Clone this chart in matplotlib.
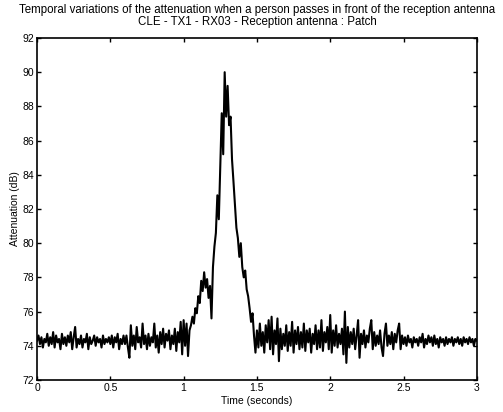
import numpy as np
import matplotlib
matplotlib.use("Agg")
import matplotlib.pyplot as plt

plt.rcParams['font.family'] = ['Liberation Sans', 'DejaVu Sans']

title_lines = ["Temporal variations of the attenuation when a person passes in front of the reception antenna",
               "CLE - TX1 - RX03 - Reception antenna : Patch"]
x_label = "Time (seconds)"
y_label = "Attenuation (dB)"
x_ticks = [0, 0.5, 1, 1.5, 2, 2.5, 3]
x_tick_labels = ["0", "0.5", "1", "1.5", "2", "2.5", "3"]
y_ticks = [72, 74, 76, 78, 80, 82, 84, 86, 88, 90, 92]

t_start = 0.0
t_step = 0.01

attenuation = [
    74.3, 74.6, 74.1, 74.5, 73.9, 74.4, 74.2, 74.7, 74.0, 74.5,
    74.1, 74.8, 73.9, 74.6, 74.2, 74.4, 73.8, 74.7, 74.1, 74.5,
    74.0, 74.6, 74.2, 74.8, 73.8, 74.5, 75.1, 73.9, 74.4, 74.1,
    74.6, 73.9, 74.4, 74.2, 74.7, 73.8, 74.5, 74.1, 74.3, 74.6,
    74.0, 74.5, 74.2, 74.4, 73.9, 74.6, 74.1, 74.4, 74.2, 74.5,
    74.1, 74.6, 73.9, 74.5, 74.2, 74.7, 73.8, 74.4, 74.1, 74.6,
    74.1, 74.6, 73.9, 73.3, 75.2, 74.0, 74.6, 73.8, 75.1, 74.2,
    74.5, 73.9, 75.3, 74.1, 74.6, 73.8, 74.7, 74.0, 74.5, 74.2,
    75.3, 73.9, 74.6, 73.6, 74.8, 74.1, 75.0, 73.9, 74.7, 74.3,
    74.9, 73.8, 74.6, 74.1, 75.0, 73.7, 74.8, 74.2, 75.4, 73.5,
    75.5, 74.0, 75.3, 73.4, 74.9, 75.2, 75.7, 75.3, 76.2, 75.9,
    76.9, 76.5, 77.8, 77.2, 78.3, 77.4, 77.9, 76.8, 77.5, 75.6,
    78.6, 79.8, 80.6, 82.8, 81.4, 84.5, 87.6, 85.2, 90.0, 87.4,
    89.2, 86.9, 87.4, 84.9, 83.6, 82.2, 80.9, 80.3, 79.2, 80.0,
    78.6, 78.0, 78.4, 77.3, 76.9, 76.2, 75.4, 75.9, 74.6, 73.6,
    74.9, 73.9, 75.3, 74.0, 74.8, 73.6, 75.2, 74.2, 75.5, 73.8,
    75.7, 73.5, 74.9, 74.1, 75.6, 73.1, 75.0, 73.8, 74.7, 74.0,
    75.2, 73.7, 74.8, 74.0, 75.4, 73.6, 74.9, 74.1, 75.1, 73.8,
    74.8, 73.9, 75.3, 73.7, 74.9, 74.2, 75.0, 73.6, 74.7, 74.1,
    75.2, 73.8, 74.9, 73.9, 75.5, 73.7, 74.8, 74.2, 75.1, 73.8,
    75.8, 73.6, 74.9, 74.0, 75.2, 73.9, 74.7, 74.1, 75.0, 73.5,
    76.0, 73.0, 75.1, 73.9, 74.8, 74.1, 75.0, 73.8, 74.6, 75.5,
    73.3, 74.7, 74.1, 74.9, 73.9, 74.6, 74.2, 75.0, 75.5, 73.8,
    74.8, 74.0, 74.6, 74.1, 74.9, 73.9, 73.4, 74.7, 75.3, 74.0,
    74.6, 74.1, 74.8, 73.8, 74.7, 74.2, 74.9, 75.3, 73.8, 74.6,
    74.1, 74.5, 74.0, 74.6, 74.2, 74.4, 73.9, 74.5, 74.2, 74.4,
    74.0, 74.5, 74.2, 74.7, 73.9, 74.4, 74.1, 74.6, 74.2, 74.5,
    74.0, 74.6, 74.1, 74.4, 73.9, 74.5, 74.2, 74.4, 74.0, 74.5,
    74.1, 74.4, 74.2, 74.5, 74.0, 74.4, 74.2, 74.5, 74.1, 74.4,
    74.0, 74.5, 74.2, 74.4, 74.1, 74.5, 74.2, 74.4, 74.0, 74.4,
    74.3,
]

time = t_start + t_step * np.arange(len(attenuation))

fig = plt.figure(figsize=(5.03, 4.12), dpi=100)
ax = fig.add_axes([0.0736, 0.0777, 0.8744, 0.8301])
ax.plot(time, attenuation, color='black', linewidth=1.5)
ax.set_xlim(0, 3)
ax.set_ylim(72, 92)
ax.set_xticks(x_ticks)
ax.set_xticklabels(x_tick_labels)
ax.set_yticks(y_ticks)
ax.tick_params(direction='in', length=3, width=1, labelsize=7.5, pad=2,
               top=True, right=True)
for s in ax.spines.values():
    s.set_linewidth(1.2)
ax.set_xlabel(x_label, fontsize=7.5, labelpad=2)
ax.set_ylabel(y_label, fontsize=7.5, labelpad=2)
ax.set_title("\n".join(title_lines), fontsize=8.3, pad=9, linespacing=1.05)
fig.savefig("out.png", dpi=100)
